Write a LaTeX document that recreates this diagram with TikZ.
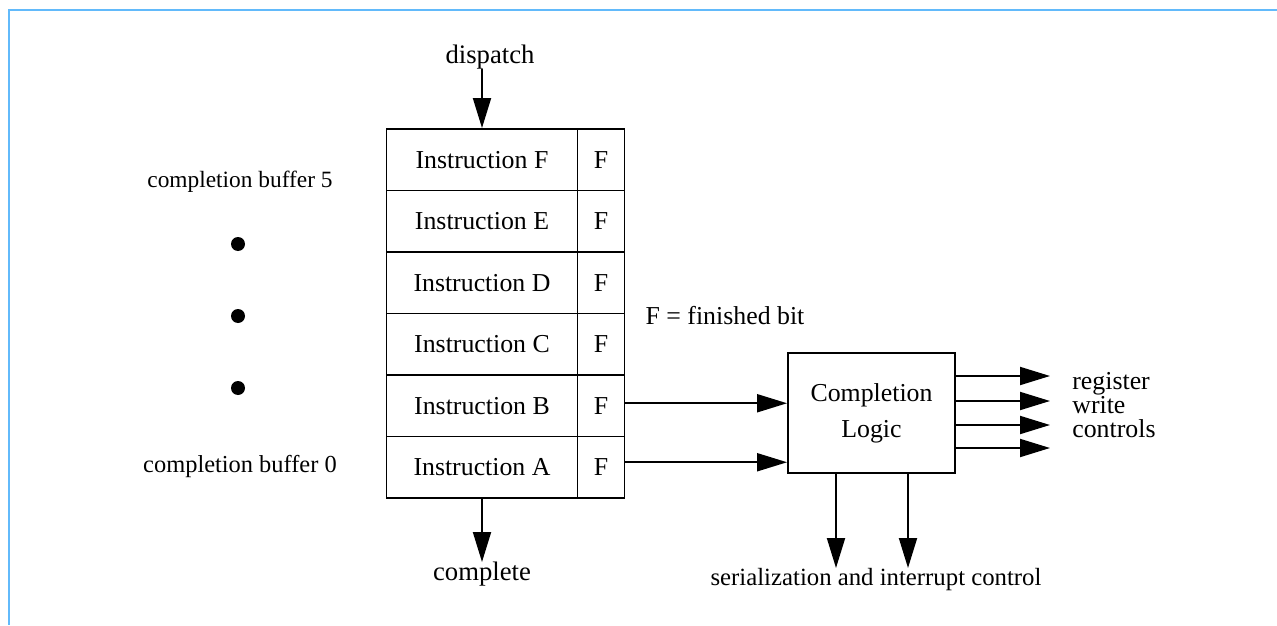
\documentclass[tikz,border=0pt]{standalone}
\usepackage{fontspec}
\setmainfont{Liberation Serif}
\usepackage{tikz}
\usetikzlibrary{arrows.meta,positioning}
\definecolor{frameblue}{HTML}{62BAFB}

\tikzset{
    cell/.style={draw, line width=1.1pt, minimum height=1.23cm, inner sep=0pt},
    instcell/.style={cell, minimum width=3.82cm},
    bitcell/.style={cell, minimum width=0.94cm},
    arr/.style={-{Triangle[length=0.6cm, width=0.36cm]}, line width=1.1pt},
    lbl/.style={inner sep=0pt}
}

\begin{document}
\begin{tikzpicture}[
    x=0.02cm, y=-0.02cm,
    every node/.style={font=\fontsize{14.7pt}{17pt}\selectfont}
]
    \useasboundingbox (0,0) rectangle (1277,625);

    % === FRAME ===
    \draw[frameblue, line width=1.2pt] (1277,10) -- (9,10) -- (9,625);

    % === COMPLETION BUFFER ===
    \foreach \l [count=\i from 0] in {A,B,C,D,E,F} {
        \node[instcell] (ins\l) at (482,{467.25-61.5*\i}) {Instruction \l};
        \node[bitcell, right=-1.1pt of ins\l] (f\l) {F};
    }

    \node[lbl, font=\fontsize{13.3pt}{16pt}\selectfont] (bufhi) at (240,182) {completion buffer 5};
    \node[lbl, font=\fontsize{13.9pt}{16pt}\selectfont] (buflo) at (240,466) {completion buffer 0};
    \foreach \y in {244,316,388}
        \fill (238,\y) circle (0.14cm);

    \node[lbl] (fnote) at (725,316) {F = finished bit};

    % === DISPATCH / COMPLETE ===
    \node[lbl, font=\fontsize{15.2pt}{17pt}\selectfont] (dispatch) at (490,57) {dispatch};
    \draw[arr] (insF.north |- dispatch.south) -- (insF.north);

    \node[lbl, anchor=north, font=\fontsize{15.2pt}{17pt}\selectfont] (complete) at (482,562) {complete};
    \draw[arr] (insA.south) -- (insA.south |- complete.north);

    % === COMPLETION LOGIC ===
    \node[draw, line width=1.1pt, minimum width=3.34cm, minimum height=2.4cm, align=center,
          font=\fontsize{14.7pt}{20.5pt}\selectfont] (logic) at (871.5,413) {Completion\\Logic};

    \draw[arr] ([yshift=0.05cm]fB.east) -- ([yshift=0.05cm]fB.east -| logic.west);
    \draw[arr] ([yshift=0.1cm]fA.east) -- ([yshift=0.1cm]fA.east -| logic.west);

    % register write controls
    \foreach \dy [count=\k] in {-37,-12,12,35} {
        \coordinate (out\k) at (1050,413+\dy);
        \draw[arr] (logic.east |- out\k) -- (out\k);
    }
    \node[lbl, anchor=west, align=left, font=\fontsize{14.7pt}{13.9pt}\selectfont] (regctl) at (1072,405)
        {register\\write\\controls};

    % serialization and interrupt control
    \coordinate (ser1) at (836,568);
    \coordinate (ser2) at (908,568);
    \draw[arr] (ser1 |- logic.south) -- (ser1);
    \draw[arr] (ser2 |- logic.south) -- (ser2);
    \node[lbl, font=\fontsize{14.1pt}{17pt}\selectfont] (serctl) at (876,580) {serialization and interrupt control};
\end{tikzpicture}
\end{document}
